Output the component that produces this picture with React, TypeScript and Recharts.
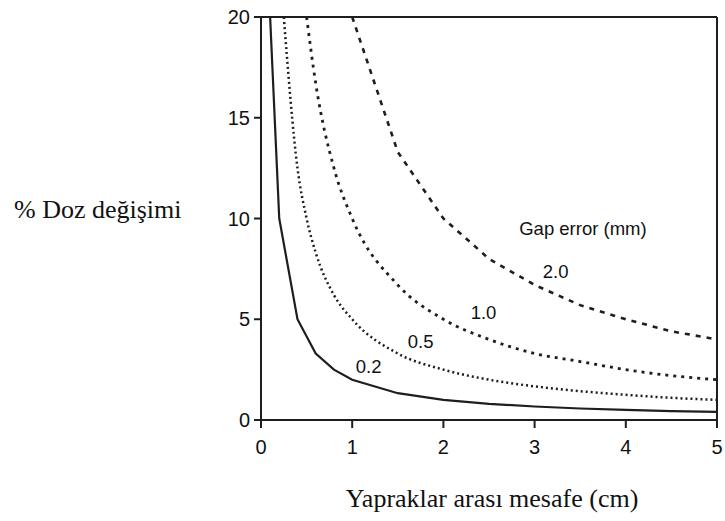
import React from 'react';
import { LineChart, Line, XAxis, YAxis, ReferenceLine, ReferenceDot, Label } from 'recharts';

// Leaf separation (cm)
const distance = [0.1, 0.2, 0.25, 0.4, 0.5, 0.6, 0.8, 1, 1.5, 2, 2.5, 3, 3.5, 4, 4.5, 5];

// % dose change for each gap error (mm); null where the curve is off the top of the plot
const gap02 = [20, 10, null, 5, null, 3.3, 2.5, 2, 1.33, 1, 0.8, 0.67, 0.57, 0.5, 0.44, 0.4];
const gap05 = [null, null, 20, 12.5, 10, 8.3, 6.2, 5, 3.3, 2.5, 2, 1.67, 1.43, 1.25, 1.1, 1];
const gap10 = [null, null, null, null, 20, 16.7, 12.5, 10, 6.7, 5, 4, 3.3, 2.9, 2.5, 2.2, 2];
const gap20 = [null, null, null, null, null, null, null, 20, 13.3, 10, 8, 6.7, 5.7, 5, 4.4, 4];

const xTicks = [0, 1, 2, 3, 4, 5];
const yTicks = [0, 5, 10, 15, 20];

// curve captions, anchored in data units
const captions = [
  { text: '0.2', x: 1.18, y: 2.68 },
  { text: '0.5', x: 1.75, y: 3.92 },
  { text: '1.0', x: 2.44, y: 5.36 },
  { text: '2.0', x: 3.23, y: 7.39 },
  { text: 'Gap error (mm)', x: 3.53, y: 9.53 },
];

const data = distance.map((x, i) => ({
  x,
  g02: gap02[i],
  g05: gap05[i],
  g10: gap10[i],
  g20: gap20[i],
}));

const INK = '#1e1e1e';
const SANS = '"Liberation Sans", Arial, Helvetica, sans-serif';
const SERIF = '"Liberation Serif", "Times New Roman", serif';

const XTitle = ({ viewBox }: any) => (
  <text
    x={viewBox.x + viewBox.width / 2 + 3}
    y={507}
    textAnchor="middle"
    fontFamily={SERIF}
    fontSize={26}
    fill="#111"
  >
    Yapraklar arası mesafe (cm)
  </text>
);

const YTitle = () => (
  <text x={14} y={218} textAnchor="start" fontFamily={SERIF} fontSize={26} fill="#111">
    % Doz değişimi
  </text>
);

export default function App() {
  return (
    <div style={{ position: 'absolute', left: 0, top: 0, width: 725, height: 521, background: '#fff' }}>
      <LineChart width={725} height={521} data={data} margin={{ top: 17, right: 8, bottom: 61, left: 0 }}>
        <XAxis
          dataKey="x"
          type="number"
          domain={[0, 5]}
          ticks={xTicks}
          height={40}
          tickSize={8}
          tickMargin={12}
          axisLine={{ stroke: INK, strokeWidth: 2 }}
          tickLine={{ stroke: INK, strokeWidth: 2 }}
          tick={{ fill: '#111', fontSize: 20, fontFamily: SANS }}
        >
          <Label content={<XTitle />} />
        </XAxis>
        <YAxis
          type="number"
          domain={[0, 20]}
          ticks={yTicks}
          width={261}
          tickSize={7}
          tickMargin={4}
          axisLine={{ stroke: INK, strokeWidth: 2 }}
          tickLine={{ stroke: INK, strokeWidth: 2 }}
          tick={{ fill: '#111', fontSize: 20, fontFamily: SANS }}
        >
          <Label content={<YTitle />} />
        </YAxis>
        <ReferenceLine y={20} stroke={INK} strokeWidth={2} />
        <ReferenceLine x={5} stroke={INK} strokeWidth={2} />

        <Line type="linear" dataKey="g02" stroke={INK} strokeWidth={2.2} dot={false} connectNulls isAnimationActive={false} />
        <Line type="monotone" dataKey="g05" stroke={INK} strokeWidth={2.5} strokeDasharray="2 3" dot={false} isAnimationActive={false} />
        <Line type="monotone" dataKey="g10" stroke={INK} strokeWidth={2.8} strokeDasharray="3 5" dot={false} isAnimationActive={false} />
        <Line type="linear" dataKey="g20" stroke={INK} strokeWidth={2.6} strokeDasharray="5 6" dot={false} isAnimationActive={false} />

        {captions.map((c) => (
          <ReferenceDot
            key={c.text}
            x={c.x}
            y={c.y}
            r={0}
            fill="none"
            stroke="none"
            label={{ value: c.text, position: 'center', fill: '#111', fontSize: 18.5, fontFamily: SANS }}
          />
        ))}
      </LineChart>
    </div>
  );
}
